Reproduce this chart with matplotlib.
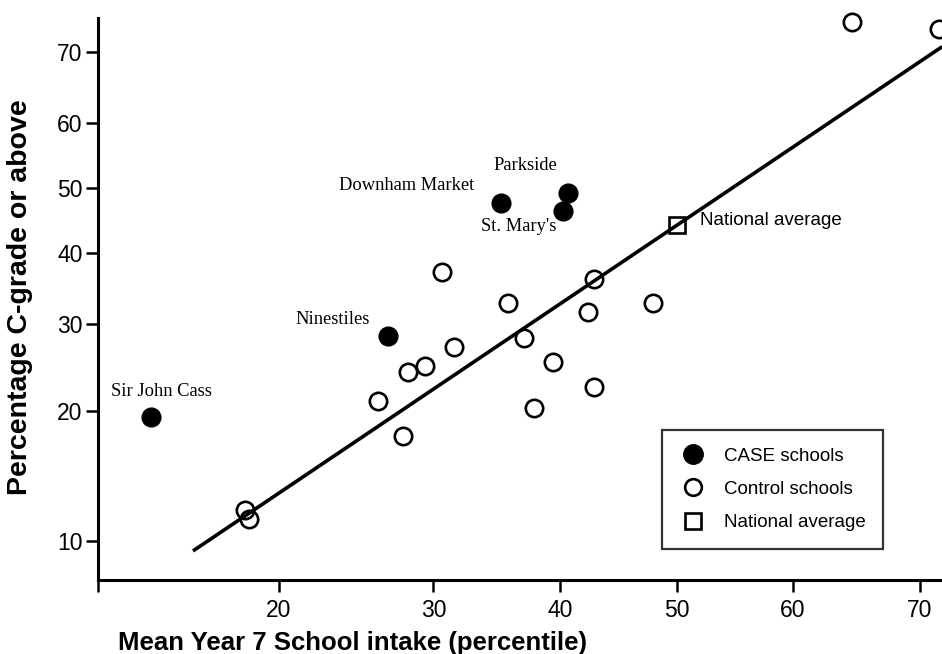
import numpy as np
import matplotlib
matplotlib.use("Agg")
import matplotlib.pyplot as plt
from matplotlib.lines import Line2D

# ---------------- data (percent values) ----------------
case_names = ["Sir John Cass", "Ninestiles", "Downham Market", "Parkside", "St. Mary's"]
case_x = [13.8, 26.8, 35.2, 40.65, 40.2]
case_y = [19.4, 28.5, 47.7, 49.25, 46.5]

control_x = [64.8, 71.4, 30.6, 42.85, 35.7, 47.9, 42.3, 31.5, 37.0, 29.4,
             28.2, 26.1, 39.4, 42.85, 37.8, 27.8, 18.2, 18.4]
control_y = [73.8, 72.9, 37.2, 36.2, 32.85, 32.85, 31.6, 27.1, 28.2, 24.8,
             24.15, 21.0, 25.3, 22.5, 20.3, 17.6, 11.9, 11.3]

national_x = [50.0]
national_y = [44.3]

fit_x = [15.65, 71.6]
fit_y = [9.46, 70.7]

x_ticks = [20, 30, 40, 50, 60, 70]
y_ticks = [10, 20, 30, 40, 50, 60, 70]
x_lim = (11.76, 71.59)
y_lim = (8.02, 74.26)

label_offsets = {  # pixels relative to point
    "Sir John Cass": (11, 25, "center"),
    "Ninestiles": (-18, 16, "right"),
    "Downham Market": (-27, 17, "right"),
    "Parkside": (-43, 27, "center"),
    "St. Mary's": (-44, -16, "center"),
}


def fwd(v):
    v = np.clip(np.asarray(v, dtype=float), 1e-6, 100 - 1e-6)
    return np.log(v / (100 - v))


def inv(u):
    return 100.0 / (1.0 + np.exp(-np.asarray(u, dtype=float)))


plt.rcParams["font.family"] = ["Liberation Sans", "DejaVu Sans"]

fig = plt.figure(figsize=(9.42, 6.54), dpi=100)
ax = fig.add_axes([98 / 942, 74 / 654, 1 - 98 / 942, (580 - 18) / 654])
ax.set_xscale("function", functions=(fwd, inv))
ax.set_yscale("function", functions=(fwd, inv))
ax.set_xlim(*x_lim)
ax.set_ylim(*y_lim)

# regression line
ax.plot(fit_x, fit_y, color="black", lw=2.6, solid_capstyle="butt", zorder=2)

# control schools
ax.plot(control_x, control_y, linestyle="none", marker="o", markersize=12.5,
        markerfacecolor="none", markeredgecolor="black", markeredgewidth=1.9,
        clip_on=False, zorder=3)
# CASE schools
ax.plot(case_x, case_y, linestyle="none", marker="o", markersize=13.5,
        markerfacecolor="black", markeredgecolor="black", clip_on=False, zorder=4)
# national average
ax.plot(national_x, national_y, linestyle="none", marker="s", markersize=11.5,
        markerfacecolor="none", markeredgecolor="black", markeredgewidth=1.9,
        zorder=4)

for name, x, y in zip(case_names, case_x, case_y):
    dx, dy, ha = label_offsets[name]
    ax.annotate(name, (x, y), xytext=(dx, dy), textcoords="offset pixels",
                ha=ha, va="center", fontsize=13.3, family="Liberation Serif")
ax.annotate("National average", (national_x[0], national_y[0]), xytext=(23, 4),
            textcoords="offset pixels", ha="left", va="center", fontsize=13.5)

# axes styling
for side in ("top", "right"):
    ax.spines[side].set_visible(False)
for side in ("left", "bottom"):
    ax.spines[side].set_linewidth(2.2)

ax.set_xticks([x_lim[0]] + x_ticks, labels=[""] + [str(t) for t in x_ticks])
ax.set_yticks(y_ticks, labels=[str(t) for t in y_ticks])
ax.minorticks_off()
ax.tick_params(axis="both", direction="out", length=8.5, width=1.8,
               labelsize=16.5, color="black")
ax.tick_params(axis="x", pad=5)
ax.tick_params(axis="y", pad=2.5)

ax.set_xlabel("Mean Year 7 School intake (percentile)", fontsize=18.5,
              fontweight="bold", va="baseline")
ax.xaxis.set_label_coords(254 / 844, (654 - 650 - 74) / 562)
ax.set_ylabel("Percentage C-grade or above", fontsize=20.5,
              fontweight="bold", va="center")
ax.yaxis.set_label_coords((20 - 98) / 844, (580 - 297) / 562)

handles = [
    Line2D([], [], linestyle="none", marker="o", markersize=14,
           markerfacecolor="black", markeredgecolor="black"),
    Line2D([], [], linestyle="none", marker="o", markersize=12,
           markerfacecolor="none", markeredgecolor="black", markeredgewidth=1.9),
    Line2D([], [], linestyle="none", marker="s", markersize=11.5,
           markerfacecolor="none", markeredgecolor="black", markeredgewidth=1.9),
]
leg = ax.legend(handles, ["CASE schools", "Control schools", "National average"],
                loc="upper left", bbox_to_anchor=(662 / 942, 1 - 430 / 654),
                bbox_transform=fig.transFigure, borderaxespad=0, fontsize=13.5,
                frameon=True, fancybox=False, borderpad=0.95, labelspacing=0.85,
                handlelength=1.4, handletextpad=0.95)
leg.get_frame().set_edgecolor("black")
leg.get_frame().set_linewidth(1.6)

fig.savefig("out.png", dpi=100)
